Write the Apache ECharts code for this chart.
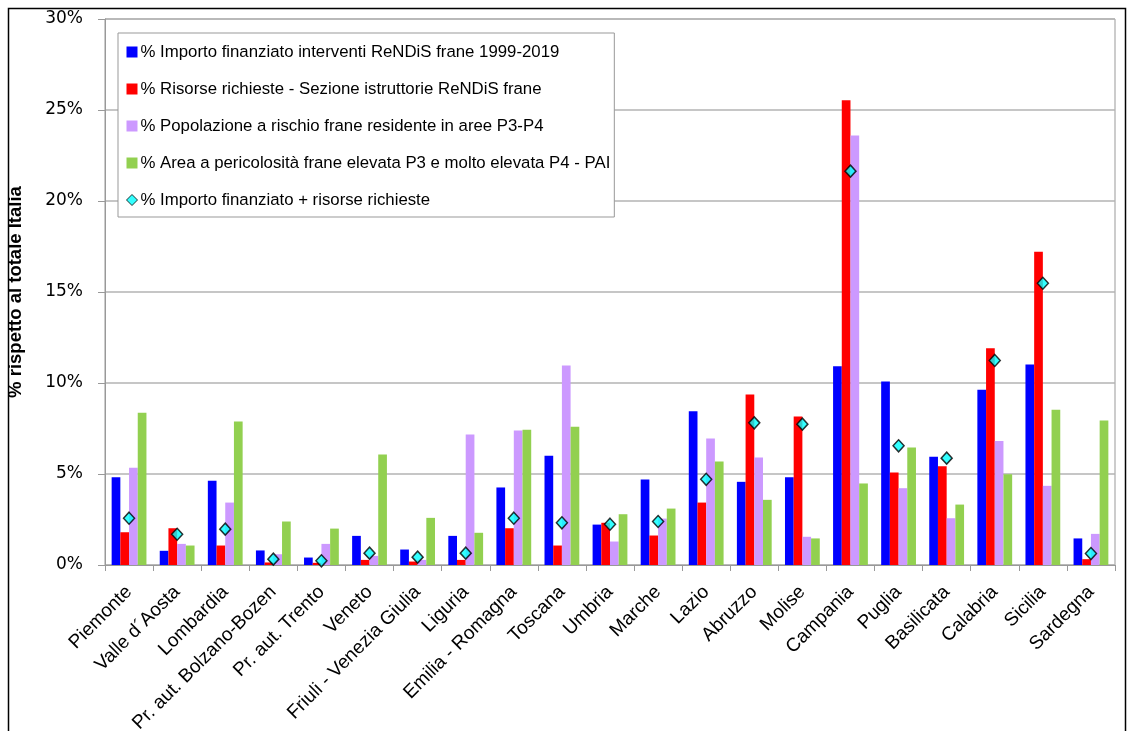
<!DOCTYPE html>
<html>
<head>
<meta charset="utf-8">
<script src="https://cdn.jsdelivr.net/npm/echarts@6/dist/echarts.min.js"></script>
<style>
html,body{margin:0;padding:0;background:#fff;}
#c{width:1129px;height:731px;}
</style>
</head>
<body>
<div id="c"></div>
<script>
const categories = ["Piemonte","Valle d\u00B4Aosta","Lombardia","Pr. aut. Bolzano-Bozen","Pr. aut. Trento","Veneto","Friuli - Venezia Giulia","Liguria","Emilia - Romagna","Toscana","Umbria","Marche","Lazio","Abruzzo","Molise","Campania","Puglia","Basilicata","Calabria","Sicilia","Sardegna"];
const seriesNames = [
  "% Importo finanziato interventi ReNDiS frane 1999-2019",
  "% Risorse richieste - Sezione istruttorie ReNDiS frane",
  "% Popolazione a rischio frane residente in aree P3-P4",
  "% Area a pericolosit\u00E0 frane elevata P3 e molto elevata P4 - PAI",
  "% Importo finanziato + risorse richieste"
];
const importo    = [4.82,0.78,4.63,0.80,0.41,1.60,0.85,1.60,4.26,6.00,2.22,4.70,8.45,4.57,4.82,10.92,10.08,5.95,9.63,11.02,1.46];
const risorse    = [1.80,2.02,1.07,0.14,0.12,0.28,0.19,0.28,2.02,1.07,2.32,1.62,3.43,9.37,8.16,25.54,5.08,5.43,11.91,17.21,0.32];
const popolazione= [5.34,1.16,3.43,0.59,1.16,0.50,0.28,7.17,7.39,10.96,1.29,2.55,6.95,5.91,1.55,23.60,4.22,2.57,6.82,4.35,1.71];
const area       = [8.36,1.07,7.88,2.39,2.00,6.07,2.59,1.77,7.43,7.59,2.79,3.10,5.69,3.58,1.46,4.48,6.46,3.32,4.99,8.53,7.94];
const totale     = [2.57,1.69,1.97,0.32,0.23,0.65,0.43,0.65,2.57,2.32,2.24,2.39,4.71,7.81,7.74,21.64,6.55,5.87,11.24,15.48,0.63];
const yTicks = [0,5,10,15,20,25,30];

const colors = ['#0000FF','#FF0000','#CC99FF','#92D050'];
const barData = [importo, risorse, popolazione, area];

const chart = echarts.init(document.getElementById('c'), null, {renderer:'canvas'});
const textFont = 'Liberation Sans';

const series = barData.map((d, i) => ({
  name: seriesNames[i],
  type: 'bar',
  data: d,
  barWidth: 8.7,
  barGap: '0%',
  barCategoryGap: '31%',
  itemStyle: {color: colors[i]},
  z: 2
}));
series.push({
  name: seriesNames[4],
  type: 'scatter',
  data: totale,
  symbol: 'diamond',
  symbolSize: [11, 12],
  itemStyle: {color: '#00FFFF', borderColor: '#000', borderWidth: 1.5},
  z: 5
});

chart.setOption({
  backgroundColor: '#fff',
  animation: false,
  graphic: [{
    type: 'rect',
    shape: {x: 8.5, y: 8.5, width: 1117, height: 760},
    style: {fill: 'none', stroke: '#000', lineWidth: 1.5},
    silent: true,
    z: 0
  }],
  grid: {
    left: 105, right: 14, top: 19, bottom: 166,
    containLabel: false,
    outerBoundsMode: 'none',
    show: true, borderColor: '#999', borderWidth: 1, backgroundColor: 'transparent'
  },
  legend: {
    orient: 'vertical',
    left: 118, top: 33,
    padding: [9, 4, 7, 8],
    itemGap: 17,
    itemWidth: 11, itemHeight: 11,
    backgroundColor: '#fff',
    borderColor: '#999', borderWidth: 1,
    textStyle: {fontFamily: textFont, fontSize: 16.8, color: '#000', lineHeight: 20, padding: [0,0,0,-2]},
    data: [
      {name: seriesNames[0], icon: 'rect'},
      {name: seriesNames[1], icon: 'rect'},
      {name: seriesNames[2], icon: 'rect'},
      {name: seriesNames[3], icon: 'rect'},
      {name: seriesNames[4], icon: 'diamond', itemStyle: {color: '#00FFFF', borderColor: '#000', borderWidth: 1}}
    ]
  },
  xAxis: {
    type: 'category',
    data: categories,
    boundaryGap: true,
    axisLine: {lineStyle: {color: '#999', width: 1}},
    axisTick: {show: true, alignWithLabel: false, length: 6, lineStyle: {color: '#999'}},
    axisLabel: {rotate: 45, interval: 0, fontFamily: textFont, fontSize: 19, color: '#000', margin: 24}
  },
  yAxis: {
    type: 'value',
    min: 0, max: 30, interval: 5,
    name: '% rispetto al totale Italia',
    nameLocation: 'middle',
    nameGap: 80,
    nameTextStyle: {fontFamily: textFont, fontWeight: 'bold', fontSize: 18.5, color: '#000'},
    axisLine: {show: true, lineStyle: {color: '#999'}},
    axisTick: {show: true, length: 7, inside: false, lineStyle: {color: '#999'}},
    splitLine: {show: true, lineStyle: {color: '#b3b3b3', width: 1.5}},
    axisLabel: {
      fontFamily: 'DejaVu Sans', fontSize: 17, color: '#000', margin: 22,
      formatter: v => (yTicks.indexOf(v) >= 0 ? v + '%' : '')
    }
  },
  series: series
});
</script>
</body>
</html>
